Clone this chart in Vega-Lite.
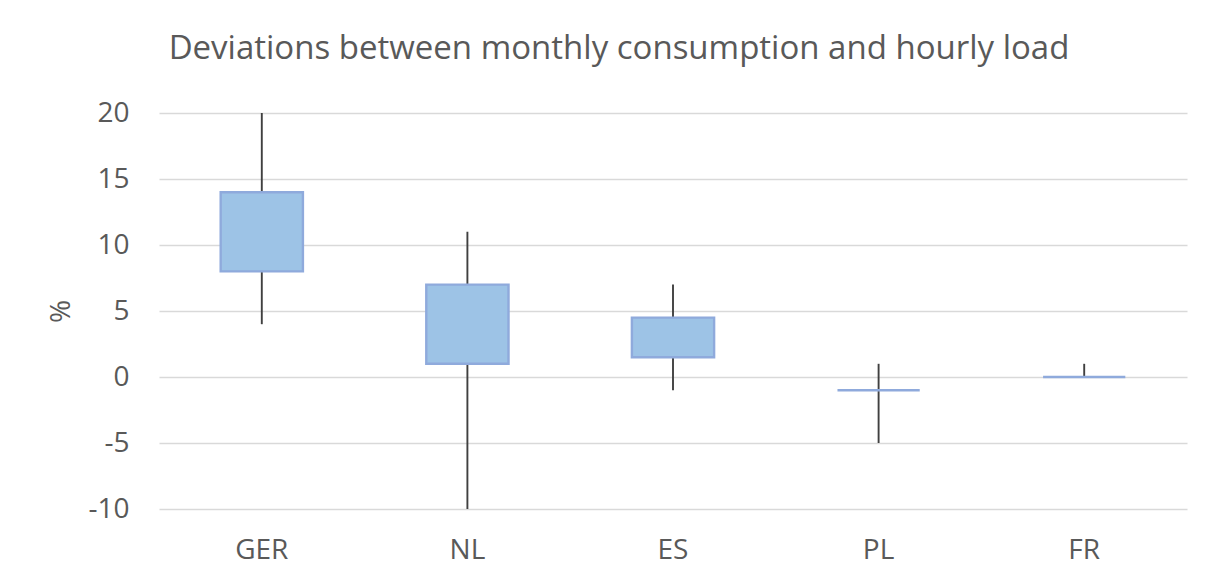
{
  "$schema": "https://vega.github.io/schema/vega-lite/v6.json",
  "width": 1028,
  "height": 396,
  "autosize": {"type": "none"},
  "padding": {"left": 159, "top": 113, "right": 26, "bottom": 70},
  "background": "white",
  "title": {
    "text": "Deviations between monthly consumption and hourly load",
    "font": "Open Sans",
    "fontSize": 33,
    "fontWeight": "normal",
    "color": "#595959",
    "anchor": "middle",
    "dx": -54,
    "offset": 33
  },
  "data": {
    "values": [
      {"country": "GER", "low": 4, "high": 20, "boxLow": 8, "boxHigh": 14},
      {"country": "NL", "low": -10, "high": 11, "boxLow": 1, "boxHigh": 7},
      {"country": "ES", "low": -1, "high": 7, "boxLow": 1.5, "boxHigh": 4.5},
      {"country": "PL", "low": -5, "high": 1, "boxLow": -1, "boxHigh": -1},
      {"country": "FR", "low": 0, "high": 1, "boxLow": 0, "boxHigh": 0}
    ]
  },
  "encoding": {
    "x": {
      "field": "country",
      "type": "nominal",
      "sort": null,
      "scale": {"paddingInner": 0.6, "paddingOuter": 0.3},
      "axis": {
        "title": null,
        "labelAngle": 0,
        "domain": false,
        "ticks": false,
        "grid": false,
        "labelPadding": 27,
        "labelFont": "Open Sans",
        "labelFontSize": 28,
        "labelColor": "#595959"
      }
    }
  },
  "layer": [
    {
      "mark": {"type": "rule", "color": "#404040", "strokeWidth": 1.9},
      "encoding": {
        "y": {
          "field": "low",
          "type": "quantitative",
          "scale": {"domain": [-10, 20], "nice": false, "zero": false},
          "axis": {
            "title": "%",
            "titleFont": "Open Sans",
            "titleFontSize": 28,
            "titleFontWeight": "normal",
            "titleColor": "#595959",
            "titlePadding": 12,
            "titleAngle": 270,
            "values": [-10, -5, 0, 5, 10, 15, 20],
            "labelExpr": "'' + datum.value",
            "domain": false,
            "ticks": false,
            "grid": true,
            "gridColor": "#D9D9D9",
            "gridWidth": 1.5,
            "labelPadding": 30,
            "labelFont": "Open Sans",
            "labelFontSize": 28,
            "labelColor": "#595959"
          }
        },
        "y2": {"field": "high"}
      }
    },
    {
      "mark": {"type": "bar", "color": "#9DC3E6", "stroke": "#8FAADC", "strokeWidth": 2.4, "opacity": 1},
      "encoding": {
        "y": {"field": "boxLow", "type": "quantitative"},
        "y2": {"field": "boxHigh"}
      }
    }
  ],
  "config": {"view": {"stroke": null}}
}
